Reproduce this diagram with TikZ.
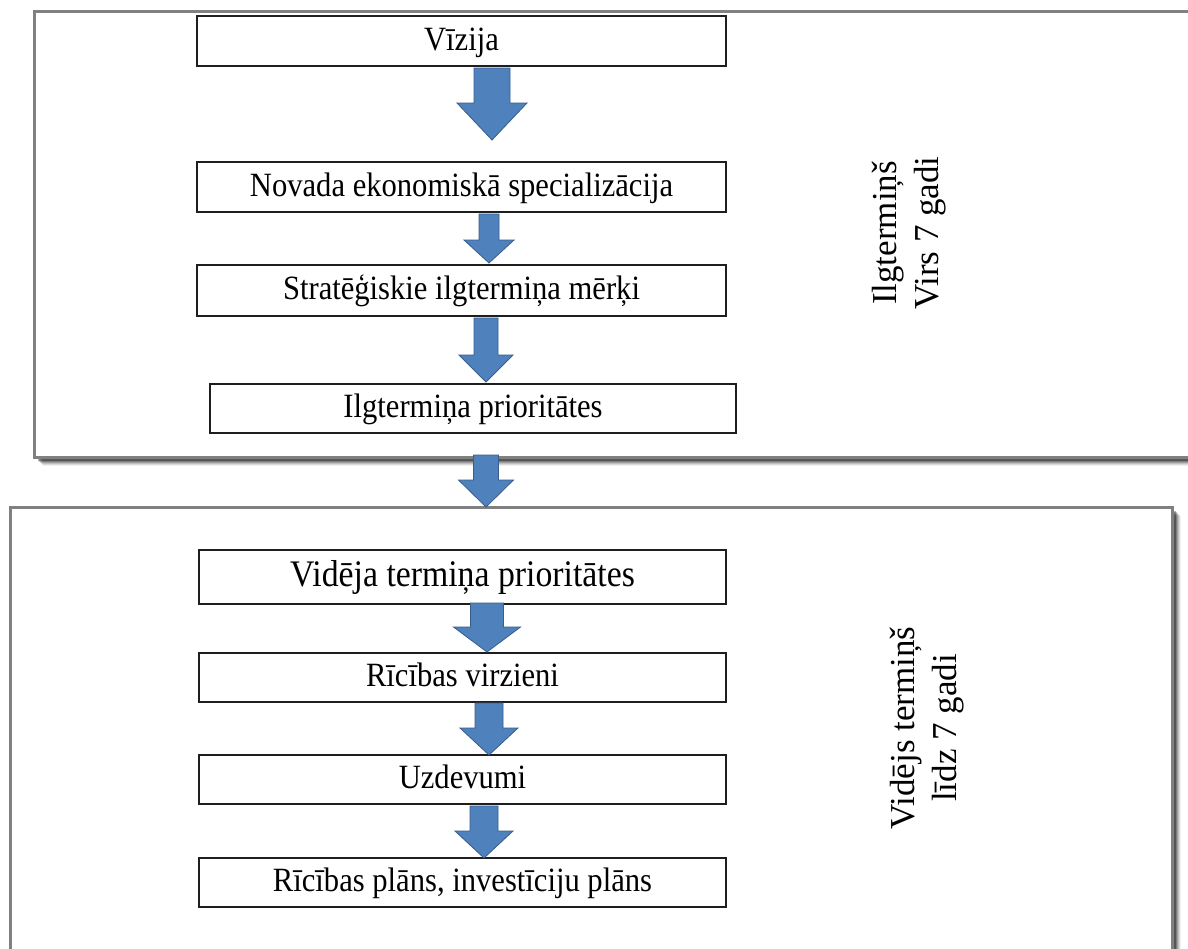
\documentclass[tikz,border=0pt]{standalone}
\usepackage{fontspec}
\setmainfont{Liberation Serif}
\newfontfamily\boxfont[FakeStretch=0.9]{Liberation Serif}
\usetikzlibrary{calc}
\definecolor{arrfill}{RGB}{79,129,189}
\definecolor{arrline}{RGB}{56,93,138}
\definecolor{framegray}{RGB}{128,128,128}
\definecolor{boxline}{RGB}{30,30,30}
\tikzset{
  stepbox/.style={draw=boxline, line width=1.6pt, fill=white, inner sep=0pt,
    text height=24pt, text depth=6pt,
    font=\boxfont\fontsize{34}{40}\selectfont},
  bigbox/.style={stepbox, text height=26pt, text depth=7pt,
    font=\boxfont\fontsize{37.5}{44}\selectfont},
  blockarrow/.style={fill=arrfill, draw=arrline, line width=0.8pt, line join=miter},
  frameline/.style={draw=framegray, line width=3pt, fill=white},
  sidelabel/.style={rotate=90, align=center, inner sep=0pt,
    font=\fontsize{35}{42}\selectfont},
}
% block arrow: #1 top coordinate, #2 tip coordinate, #3 half shaft, #4 half head, #5 head length
\newcommand{\blockarr}[5]{%
  \draw[blockarrow] let \p1=(#1), \p2=(#2) in
    (\x1-#3,\y1) -- (\x1+#3,\y1) -- (\x1+#3,\y2+#5) -- (\x1+#4,\y2+#5)
    -- (\x1,\y2) -- (\x1-#4,\y2+#5) -- (\x1-#3,\y2+#5) -- cycle;}
% shadowed frame: x1 y1 x2 y2
\newcommand{\shadowframe}[4]{%
  \foreach \o/\op in {9/0.06,8/0.09,7/0.12,6/0.16,5/0.22,4/0.3}{%
    \fill[black,opacity=\op] (#1+\o,#2+\o) rectangle (#3+\o,#4+\o);}
  \path[frameline] (#1,#2) rectangle (#3,#4);}
\begin{document}
\begin{tikzpicture}[x=1pt,y=-1pt]
\clip (0,0) rectangle (1188,948);
\fill[white] (0,0) rectangle (1188,948);

% frames
\shadowframe{34}{11}{1190}{457}
\shadowframe{10}{507}{1172}{970}

% upper boxes
\node[stepbox, minimum width=529, minimum height=50] (b1) at (461.5,41) {Vīzija};
\node[stepbox, minimum width=529, minimum height=50] (b2) at (461.5,187) {Novada ekonomiskā specializācija};
\node[stepbox, minimum width=529, minimum height=51] (b3) at (461.5,290.5) {Stratēģiskie ilgtermiņa mērķi};
\node[stepbox, minimum width=526, minimum height=49] (b4) at (473,408.5) {Ilgtermiņa prioritātes};

% lower boxes
\node[bigbox, minimum width=527, minimum height=54] (b5) at (462.5,577) {Vidēja termiņa prioritātes};
\node[stepbox, minimum width=527, minimum height=49] (b6) at (462.5,677.5) {Rīcības virzieni};
\node[stepbox, minimum width=527, minimum height=49] (b7) at (462.5,779.5) {Uzdevumi};
\node[stepbox, minimum width=527, minimum height=49] (b8) at (462.5,882.5) {Rīcības plāns, investīciju plāns};

% side labels
\node[sidelabel] (l1) at (909,233) {Ilgtermiņš\\Virs 7 gadi};
\node[sidelabel] (l2) at (927,728) {Vidējs termiņš\\līdz 7 gadi};

% arrows
\coordinate (a1t) at (492,68);  \coordinate (a1h) at (492,140);
\coordinate (a2t) at (489,214); \coordinate (a2h) at (489,263);
\coordinate (a3t) at (486,318); \coordinate (a3h) at (486,382);
\coordinate (a4t) at (486,455); \coordinate (a4h) at (486,507);
\coordinate (a5t) at (487,603); \coordinate (a5h) at (487,652);
\coordinate (a6t) at (489,703); \coordinate (a6h) at (489,755);
\coordinate (a7t) at (484,806); \coordinate (a7h) at (484,858);
\blockarr{a1t}{a1h}{18pt}{35pt}{37pt}
\blockarr{a2t}{a2h}{10pt}{25pt}{23pt}
\blockarr{a3t}{a3h}{12pt}{27pt}{27pt}
\blockarr{a4t}{a4h}{12.5pt}{27.5pt}{27pt}
\blockarr{a5t}{a5h}{16.5pt}{33.5pt}{25pt}
\blockarr{a6t}{a6h}{14pt}{29pt}{27pt}
\blockarr{a7t}{a7h}{14pt}{29pt}{27pt}
\end{tikzpicture}
\end{document}
